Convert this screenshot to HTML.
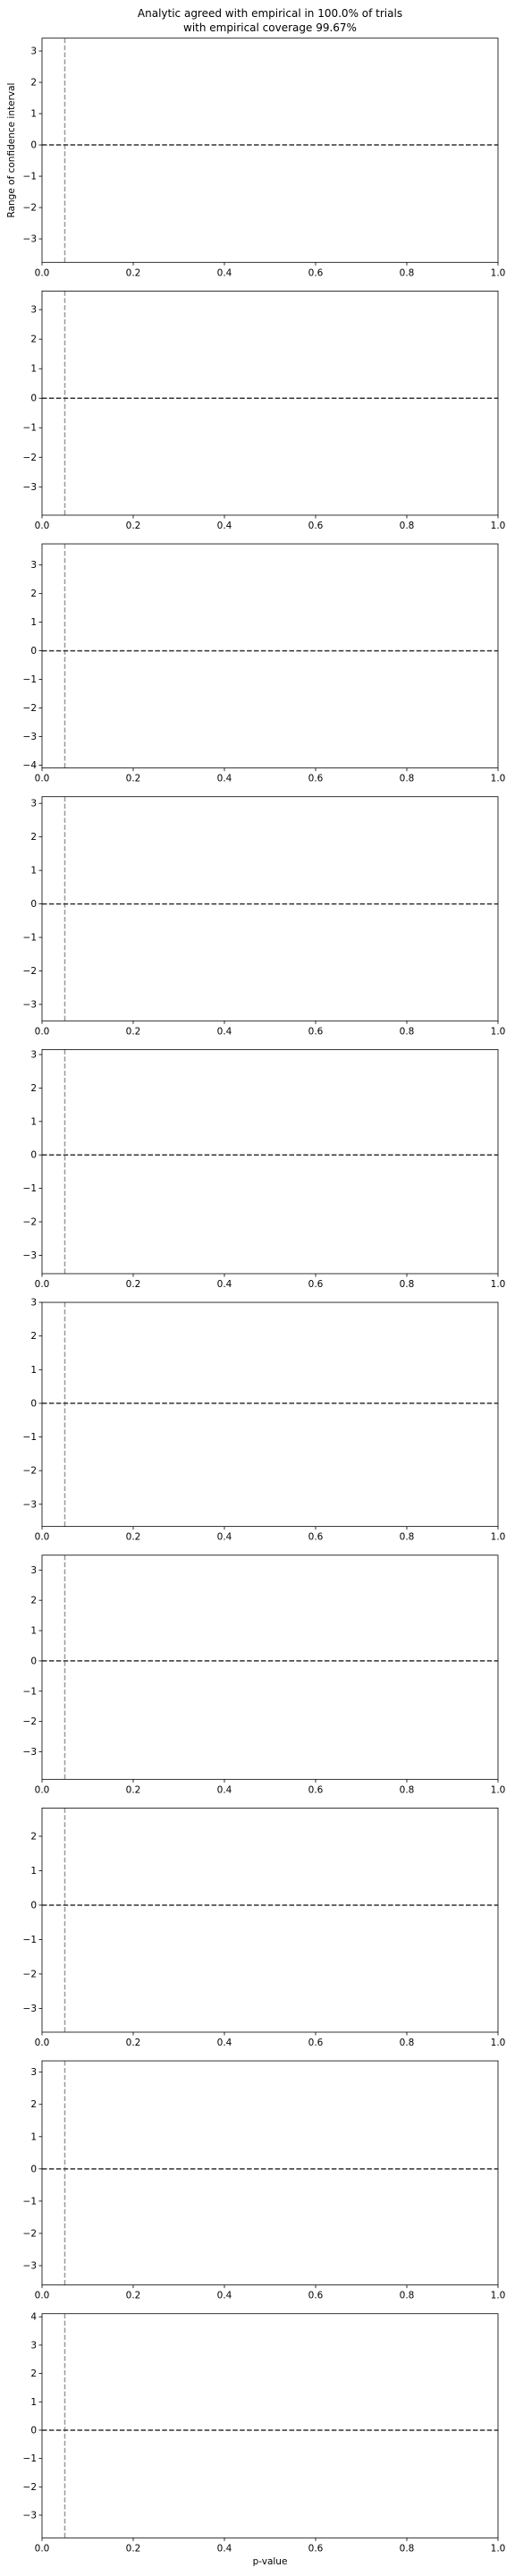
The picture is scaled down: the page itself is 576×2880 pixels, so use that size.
<!DOCTYPE html>
<html><head><meta charset="utf-8"><style>
html,body{margin:0;padding:0;background:#fff;}
svg{display:block;font-family:"DejaVu Sans","Liberation Sans",sans-serif;}
</style></head><body>
<svg id="fig" width="576" height="2880" viewBox="0 0 576 2880" xmlns="http://www.w3.org/2000/svg">
<text x="302" y="19" font-size="12" text-anchor="middle">Analytic agreed with empirical in 100.0% of trials</text>
<text x="302" y="35" font-size="12" text-anchor="middle">with empirical coverage 99.67%</text>
<text transform="translate(16,168) rotate(-90)" font-size="10.5" text-anchor="middle">Range of confidence interval</text>
<text x="302" y="2867" font-size="10.5" text-anchor="middle">p-value</text>
</svg>
<script>
const yMax = [3.41, 3.63, 3.74, 3.2, 3.15, 3.0, 3.49, 2.82, 3.35, 4.11];
const yMin = [-3.75, -3.96, -4.1, -3.49, -3.55, -3.66, -3.91, -3.69, -3.6, -3.8];
const xTicks = [0, 0.2, 0.4, 0.6, 0.8, 1.0];
const xTickLabels = ["0.0", "0.2", "0.4", "0.6", "0.8", "1.0"];
const alphaLine = [0.05];
const refLine = [0];

const NS = "http://www.w3.org/2000/svg";
const svg = document.getElementById("fig");
const L = 47, R = 557, H = 250.6, T0 = 42.7, PITCH = 282.67;
function mk(tag, attrs, parent) {
  const e = document.createElementNS(NS, tag);
  for (const k in attrs) e.setAttribute(k, attrs[k]);
  (parent || svg).appendChild(e);
  return e;
}
const xs = v => L + v * (R - L);

for (let i = 0; i < yMax.length; i++) {
  const top = T0 + PITCH * i, bot = top + H;
  const ys = v => top + (yMax[i] - v) / (yMax[i] - yMin[i]) * H;
  const g = mk("g", {});
  
  

  for (const a of alphaLine) {
    const l = mk("line", {x1: xs(a), x2: xs(a), y1: top, y2: bot, stroke: "#999", "stroke-width": 1.5, "stroke-dasharray": "5.5,2.4"}, g);
    
    
  }
  for (const r of refLine) {
    const l = mk("line", {x1: L, x2: R, y1: ys(r), y2: ys(r), stroke: "#333", "stroke-width": 1.5, "stroke-dasharray": "5.5,2.4"}, g);
    
    
  }
  const f = mk("rect", {x: L, y: top, width: R - L, height: H, fill: "none", stroke: "#000", "stroke-width": 0.8}, g);
  
  

  for (let t = Math.ceil(yMin[i]); t <= Math.floor(yMax[i]); t++) {
    const y = ys(t);
    mk("line", {x1: L - 3.5, x2: L, y1: y, y2: y, stroke: "#000", "stroke-width": 0.8}, g);
    const tx = mk("text", {x: L - 6, y: y + 3.5, "font-size": 10.5, "text-anchor": "end"}, g);
    tx.textContent = t < 0 ? "\u2212" + (-t) : String(t);
    
    
  }
  xTicks.forEach((v, j) => {
    const x = xs(v);
    mk("line", {x1: x, x2: x, y1: bot, y2: bot + 3.5, stroke: "#000", "stroke-width": 0.8}, g);
    const tx = mk("text", {x: x, y: bot + 15, "font-size": 10.5, "text-anchor": "middle"}, g);
    tx.textContent = xTickLabels[j];
    
    
  });
}
</script>
</body></html>
